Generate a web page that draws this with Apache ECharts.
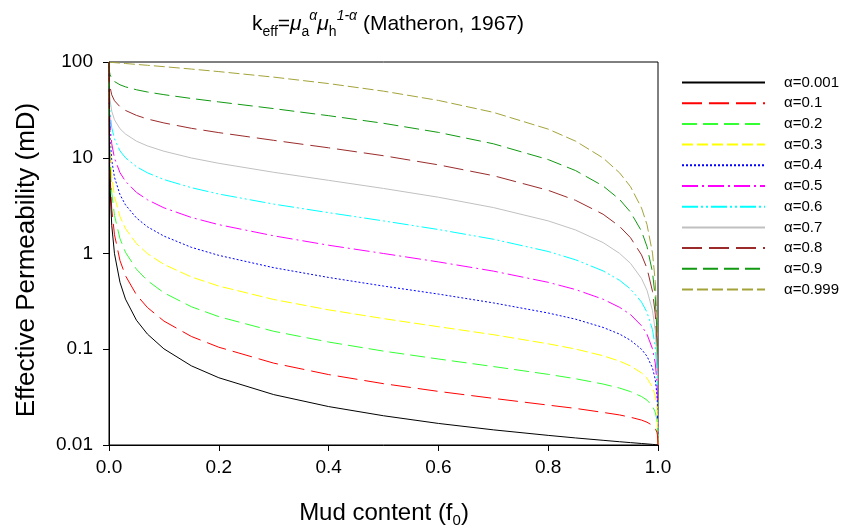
<!DOCTYPE html>
<html><head><meta charset="utf-8">
<script src="https://cdn.jsdelivr.net/npm/echarts@6/dist/echarts.min.js"></script>
<style>html,body{margin:0;padding:0;background:#fff}#c{width:852px;height:530px}</style>
</head><body><div id="c"></div>
<script>
// Mud content (f0) sample positions
const mudContent = [0, 0.001, 0.002, 0.005, 0.01, 0.02, 0.03, 0.05, 0.07, 0.1, 0.15, 0.2, 0.3, 0.4, 0.5,
  0.6, 0.7, 0.8, 0.85, 0.9, 0.93, 0.95, 0.97, 0.98, 0.99, 0.995, 0.998, 0.999, 1];

// Effective permeability (mD) read for each alpha
const k_a0001 = [100, 9.11, 4.78, 1.97, 0.995, 0.500, 0.334, 0.201, 0.144, 0.101, 0.0671, 0.0504, 0.0336, 0.0252, 0.0202,
  0.0168, 0.0144, 0.0126, 0.01185, 0.01119, 0.01082, 0.01059, 0.01037, 0.01026, 0.01015, 0.01009, 0.01005, 0.01003, 0.01];
const k_a01 = [100, 11.6, 6.46, 2.90, 1.57, 0.844, 0.586, 0.370, 0.273, 0.197, 0.136, 0.105, 0.0716, 0.0544, 0.0437,
  0.0363, 0.0307, 0.0261, 0.0241, 0.0219, 0.0206, 0.0195, 0.0182, 0.0173, 0.0160, 0.0149, 0.0136, 0.0127, 0.01];
const k_a02 = [100, 14.7, 8.75, 4.30, 2.49, 1.43, 1.03, 0.685, 0.521, 0.389, 0.278, 0.219, 0.154, 0.119, 0.0956,
  0.0791, 0.0660, 0.0547, 0.0492, 0.0433, 0.0393, 0.0361, 0.0321, 0.0294, 0.0254, 0.0220, 0.0184, 0.0162, 0.01];
const k_a03 = [100, 18.7, 11.9, 6.37, 3.94, 2.43, 1.82, 1.27, 0.997, 0.769, 0.569, 0.457, 0.331, 0.258, 0.209,
  0.172, 0.142, 0.114, 0.1005, 0.0855, 0.0751, 0.0669, 0.0566, 0.0498, 0.0402, 0.0326, 0.0250, 0.0205, 0.01];
const k_a04 = [100, 23.7, 16.1, 9.43, 6.25, 4.12, 3.22, 2.35, 1.90, 1.52, 1.16, 0.956, 0.711, 0.562, 0.457,
  0.377, 0.305, 0.239, 0.206, 0.169, 0.144, 0.124, 0.0999, 0.0844, 0.0637, 0.0484, 0.0338, 0.0261, 0.01];
const k_a05 = [100, 30.1, 21.8, 14.0, 9.90, 6.98, 5.68, 4.35, 3.64, 3.00, 2.38, 2.00, 1.53, 1.22, 1,
  0.817, 0.655, 0.500, 0.420, 0.333, 0.274, 0.230, 0.176, 0.143, 0.101, 0.0716, 0.0459, 0.0332, 0.01];
const k_a06 = [100, 38.3, 29.6, 20.7, 15.7, 11.8, 10.0, 8.07, 6.96, 5.92, 4.87, 4.18, 3.28, 2.67, 2.19,
  1.78, 1.41, 1.05, 0.859, 0.658, 0.525, 0.425, 0.311, 0.243, 0.160, 0.106, 0.0622, 0.0422, 0.01];
const k_a07 = [100, 48.7, 40.1, 30.6, 24.9, 20.1, 17.7, 14.9, 13.3, 11.7, 9.95, 8.75, 7.05, 5.81, 4.78,
  3.87, 3.02, 2.19, 1.76, 1.30, 1.003, 0.788, 0.548, 0.412, 0.254, 0.157, 0.0843, 0.0536, 0.01];
const k_a08 = [100, 61.8, 54.3, 45.4, 39.4, 34.1, 31.2, 27.7, 25.4, 23.1, 20.3, 18.3, 15.2, 12.7, 10.5,
  8.43, 6.50, 4.57, 3.59, 2.57, 1.92, 1.46, 0.967, 0.699, 0.402, 0.233, 0.114, 0.0681, 0.01];
const k_a09 = [100, 78.6, 73.6, 67.2, 62.5, 57.8, 55.0, 51.3, 48.6, 45.6, 41.6, 38.3, 32.6, 27.5, 22.9,
  18.4, 14.0, 9.57, 7.34, 5.07, 3.67, 2.70, 1.71, 1.18, 0.637, 0.344, 0.155, 0.0866, 0.01];
const k_a0999 = [100, 99.7, 99.5, 99.1, 98.5, 97.5, 96.4, 94.4, 92.4, 89.4, 84.4, 79.4, 69.5, 59.5, 49.6,
  39.7, 29.8, 19.9, 14.9, 9.94, 6.96, 4.98, 2.99, 2.00, 1.01, 0.508, 0.209, 0.110, 0.01];

const seriesNames = ['α=0.001', 'α=0.1', 'α=0.2', 'α=0.3', 'α=0.4', 'α=0.5', 'α=0.6', 'α=0.7', 'α=0.8', 'α=0.9', 'α=0.999'];
const seriesValues = [k_a0001, k_a01, k_a02, k_a03, k_a04, k_a05, k_a06, k_a07, k_a08, k_a09, k_a0999];

const xTickLabels = ['0.0', '0.2', '0.4', '0.6', '0.8', '1.0'];
const yTickLabels = ['0.01', '0.1', '1', '10', '100'];

// styles
const seriesColors = ['#000000', '#ff0000', '#33ff33', '#ffff00', '#0000ff', '#ff00ff', '#00ffff', '#c0c0c0', '#9b2b2b', '#119911', '#a3a33a'];
const seriesDash = ['solid', [20, 7], [15, 6], [11, 4], [2, 2], [16, 4, 2, 4], [16, 3, 2, 3, 2, 3], 'solid', [20, 7], [15, 6], [11, 4]];

const FONT = '"Liberation Sans", Arial, sans-serif';

const chart = echarts.init(document.getElementById('c'), null, {renderer: 'canvas'});
const series = seriesNames.map((name, i) => ({
  name,
  type: 'line',
  symbol: 'none',
  showSymbol: false,
  smooth: false,
  silent: true,
  animation: false,
  data: mudContent.map((x, j) => [x, seriesValues[i][j]]),
  lineStyle: {color: seriesColors[i], width: 1, type: seriesDash[i]},
  itemStyle: {color: seriesColors[i]},
  z: 2 + (10 - i)
}));

chart.setOption({
  animation: false,
  backgroundColor: '#ffffff',
  title: {
    text: '{k|k}{sub|eff}{t|=}{mu|μ}{sub|a}{sup|α}{mu|μ}{sub|h}{sup|1-α}{t| (Matheron, 1967)}',
    left: 383,
    top: 4,
    textAlign: 'center',
    textStyle: {
      fontFamily: FONT, fontSize: 21, fontWeight: 'normal', color: '#000',
      rich: {
        k: {fontFamily: FONT, fontSize: 21, lineHeight: 30, color: '#000'},
        t: {fontFamily: FONT, fontSize: 21, lineHeight: 30, color: '#000'},
        mu: {fontFamily: FONT, fontSize: 21, lineHeight: 30, fontStyle: 'italic', color: '#000'},
        sub: {fontFamily: FONT, fontSize: 14, lineHeight: 14, verticalAlign: 'bottom', color: '#000'},
        sup: {fontFamily: FONT, fontSize: 14, lineHeight: 14, verticalAlign: 'top', fontStyle: 'italic', color: '#000'}
      }
    }
  },
  legend: {
    orient: 'vertical',
    left: 676,
    top: 70,
    itemWidth: 83,
    itemHeight: 14,
    itemGap: 5.7,
    data: seriesNames,
    itemStyle: {opacity: 0},
    textStyle: {fontFamily: FONT, fontSize: 15, lineHeight: 15, color: '#000', padding: [0, 0, 0, 14]},
    selectedMode: false
  },
  grid: {
    left: 109, top: 62, width: 549, height: 383,
    show: true, borderColor: '#000', borderWidth: 1, backgroundColor: 'transparent'
  },
  graphic: [
    {
      type: 'text', x: 27, y: 260, rotation: Math.PI / 2, silent: true,
      style: {text: 'Effective Permeability (mD)', font: '26px "Liberation Sans", Arial, sans-serif', fill: '#000',
        align: 'center', verticalAlign: 'middle'}
    },
    {
      type: 'text', x: 384, y: 513, silent: true,
      style: {
        text: '{m|Mud content (f}{s|0}{m|)}', align: 'center', verticalAlign: 'middle', fill: '#000',
        rich: {
          m: {fontFamily: FONT, fontSize: 24, lineHeight: 30, fill: '#000'},
          s: {fontFamily: FONT, fontSize: 15, lineHeight: 15, verticalAlign: 'bottom', fill: '#000'}
        }
      }
    }
  ],
  xAxis: {
    type: 'value', min: 0, max: 1, interval: 0.2,
    axisLine: {show: true, lineStyle: {color: '#000', width: 1}},
    axisTick: {show: true, inside: false, length: 6, lineStyle: {color: '#000'}},
    axisLabel: {fontFamily: FONT, fontSize: 19, color: '#000', margin: 13,
      formatter: v => xTickLabels[Math.round(v / 0.2)]},
    splitLine: {show: false}
  },
  yAxis: {
    type: 'log', logBase: 10, min: 0.01, max: 100,
    axisLine: {show: true, lineStyle: {color: '#000', width: 1}},
    axisTick: {show: true, inside: false, length: 6, lineStyle: {color: '#000'}},
    minorTick: {show: false},
    axisLabel: {fontFamily: FONT, fontSize: 19, color: '#000', margin: 16,
      formatter: v => yTickLabels[Math.round(Math.log10(v)) + 2]},
    splitLine: {show: false}
  },
  series
});
</script>
</body></html>
